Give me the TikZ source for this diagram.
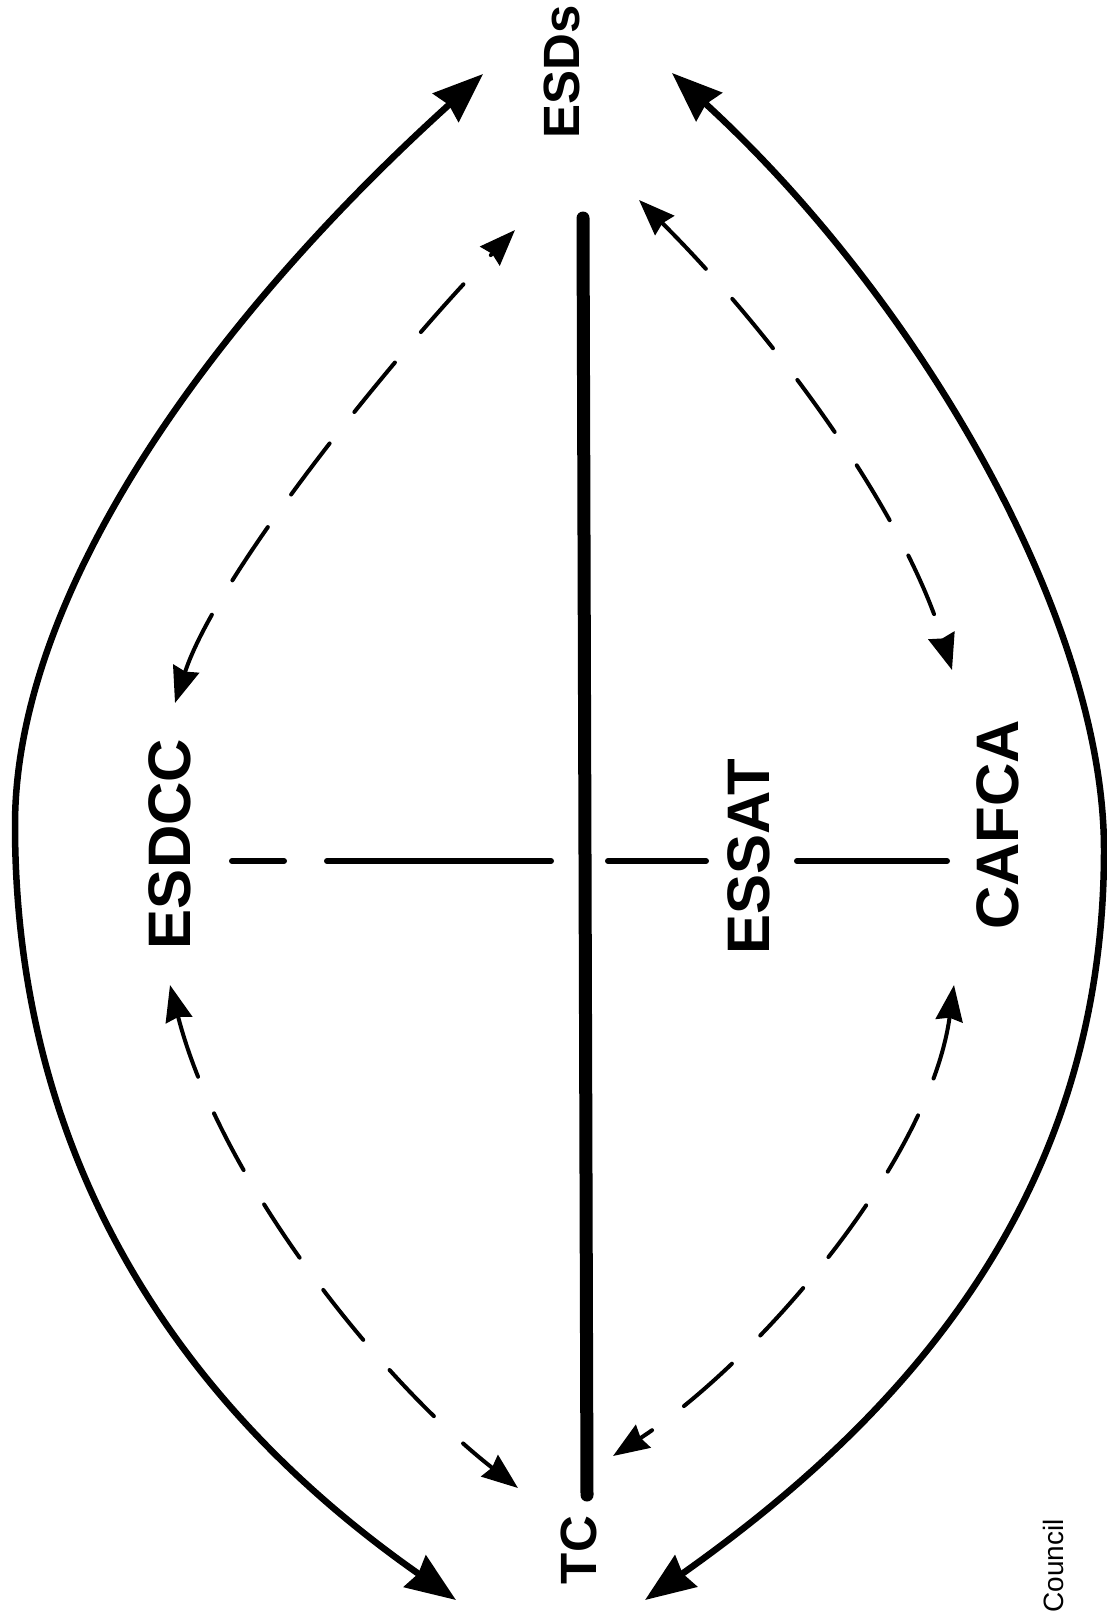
\documentclass[tikz,border=0pt]{standalone}
\usepackage{fontspec}
\setmainfont{Liberation Sans}
\usetikzlibrary{arrows.meta}
\begin{document}
\begin{tikzpicture}[x=1pt,y=-1pt,
  big/.style={font=\fontsize{60}{60}\selectfont\bfseries, rotate=90, inner sep=0pt},
  mid/.style={font=\fontsize{51}{51}\selectfont\bfseries, rotate=90, inner sep=0pt},
  outer/.style={line width=6.5pt, {Stealth[length=50pt,width=38pt,inset=4pt]}-{Stealth[length=50pt,width=38pt,inset=4pt]}},
  inner/.style={line width=4pt, line cap=round, dash pattern=on 64pt off 40pt, {Stealth[length=36pt,width=27pt,inset=3pt]}-{Stealth[length=36pt,width=27pt,inset=3pt]}},
  cross/.style={line width=6pt, line cap=round}]
\useasboundingbox (0,0) rectangle (1107,1617);
\fill[white] (0,0) rectangle (1107,1617);
% labels
\node[mid] (esds) at (562,72) {ESDs};
\node[mid] (tc) at (579,1550) {TC};
\node[big] (esdcc) at (170,844) {ESDCC};
\node[big] (essat) at (749,857) {ESSAT};
\node[big] (cafca) at (998,825) {CAFCA};
\node[font=\fontsize{28}{28}\selectfont, rotate=90, inner sep=0pt] (council) at (1053,1566) {Council};
% arrow end points
\coordinate (oTL) at (483,74);
\coordinate (oBL) at (456,1600);
\coordinate (oTR) at (672,73);
\coordinate (oBR) at (645,1600);
\coordinate (dA1) at (175,703);
\coordinate (dA2) at (515,230);
\coordinate (dB1) at (170,985);
\coordinate (dB2) at (518,1488);
\coordinate (dC1) at (639,200);
\coordinate (dC2) at (952,670);
\coordinate (dD1) at (954,985);
\coordinate (dD2) at (613,1456);
\coordinate (vTop) at (583,218);
\coordinate (vBot) at (587,1495);
% central line
\draw[line width=13pt, line cap=round] (vTop) -- (vBot);
% outer curves
\draw[outer] (oTL) .. controls (200,330) and (15,600) .. (15,825) .. controls (15,1150) and (170,1400) .. (oBL);
\draw[outer] (oTR) .. controls (920,300) and (1104,620) .. (1104,850) .. controls (1104,1200) and (900,1420) .. (oBR);
% inner dashed curves
\draw[inner] (dA1) .. controls (215,580) and (380,370) .. (dA2);
\draw[inner] (dB1) .. controls (220,1180) and (380,1380) .. (dB2);
\draw[inner] (dC1) .. controls (760,320) and (900,500) .. (dC2);
\draw[inner] (dD1) .. controls (930,1160) and (760,1360) .. (dD2);
% horizontal crossing line
\coordinate (h1) at (232,861);
\coordinate (h2) at (284,861);
\coordinate (h3) at (327,861);
\coordinate (h4) at (551,861);
\coordinate (h5) at (608,861);
\coordinate (h6) at (706,861);
\coordinate (h7) at (797,861);
\coordinate (h8) at (947,861);
\draw[cross] (h1) -- (h2);
\draw[cross] (h3) -- (h4);
\draw[cross] (h5) -- (h6);
\draw[cross] (h7) -- (h8);
\end{tikzpicture}
\end{document}
